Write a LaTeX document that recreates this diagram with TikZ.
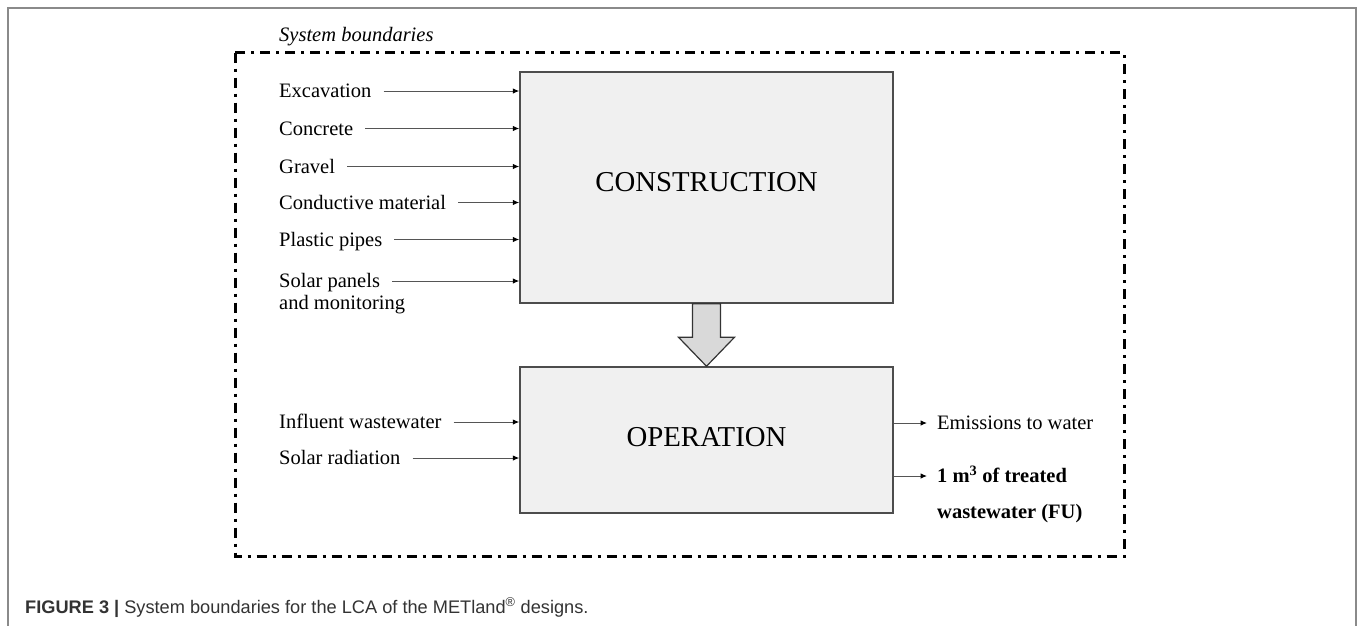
\documentclass[tikz,border=0pt]{standalone}
\usepackage{fontspec}
\setmainfont{Liberation Serif}
\newfontfamily\capfont{Liberation Sans}
\usetikzlibrary{arrows.meta,calc}
\definecolor{boxfill}{HTML}{F0F0F0}
\definecolor{boxline}{HTML}{4D4D4D}
\definecolor{flowline}{HTML}{555555}
\definecolor{framecol}{HTML}{8A8A8A}
\definecolor{bigarrow}{HTML}{D9D9D9}
\definecolor{captext}{HTML}{333333}
\tikzset{
  stagebox/.style={draw=boxline, line width=1.5pt, fill=boxfill, inner sep=0pt,
    font=\fontsize{28.8}{34}\selectfont},
  inlabel/.style={anchor=west, inner sep=0pt, text height=13.4pt, text depth=0pt,
    font=\fontsize{20.5}{24}\selectfont},
  outlabel/.style={inlabel},
  flow/.style={draw=flowline, line width=1pt, -{Latex[length=6.5pt,width=5.5pt,color=black]}},
  boundary/.style={draw=black, line width=3pt, dash pattern=on 10pt off 6pt on 3pt off 6pt},
  blockarrow/.style={draw=black!80, line width=1.2pt, fill=bigarrow, line join=miter},
}
\begin{document}
\begin{tikzpicture}[x=1pt, y=-1pt]
\useasboundingbox (0,0) rectangle (1358,625);
\fill[white] (0,0) rectangle (1358,625);
% outer frame
\draw[framecol, line width=1.5pt] (8,640) -- (8,8) -- (1356,8) -- (1356,640);
% system boundary
\draw[boundary] (235,52.5) rectangle (1124,556);
\node[anchor=base west, inner sep=0pt, font=\fontsize{20.5}{24}\selectfont\itshape] (sb) at (279,41) {System boundaries};
% stages
\node[stagebox, minimum width=373pt, minimum height=231pt, text depth=12pt] (con) at (706.5,187.5) {CONSTRUCTION};
\node[stagebox, minimum width=373pt, minimum height=146pt, text depth=6pt] (op) at (706.5,440) {OPERATION};
% block arrow
\draw[blockarrow] ($(con.south)+(-14,0)$) -- ($(con.south)+(14,0)$) -- ($(op.north)+(14,-29)$)
  -- ($(op.north)+(28,-29)$) -- (op.north) -- ($(op.north)+(-28,-29)$) -- ($(op.north)+(-14,-29)$) -- cycle;
% construction inputs
\node[inlabel] (exc) at (279,91) {Excavation};
\node[inlabel] (cnc) at (279,128.5) {Concrete};
\node[inlabel] (grv) at (279,166.5) {Gravel};
\node[inlabel] (cdm) at (279,202.5) {Conductive material};
\node[inlabel] (plp) at (279,239.5) {Plastic pipes};
\node[inlabel] (sp1) at (279,281) {Solar panels};
\node[inlabel] (sp2) at (279,303) {and monitoring};
\foreach \n in {exc,cnc,grv,cdm,plp,sp1}
  \draw[flow] ([xshift=12pt]\n.east) -- (\n.east -| con.west);
% operation inputs
\node[inlabel] (inf) at (279,422) {Influent wastewater};
\node[inlabel] (sol) at (279,458) {Solar radiation};
\foreach \n in {inf,sol}
  \draw[flow] ([xshift=12pt]\n.east) -- (\n.east -| op.west);
% outputs
\node[outlabel] (emi) at (937,423) {Emissions to water};
\node[outlabel, font=\fontsize{20.5}{24}\selectfont\bfseries] (fu1) at (937,476) {1 m\textsuperscript{3} of treated};
\node[outlabel, font=\fontsize{20.5}{24}\selectfont\bfseries] (fu2) at (937,511.5) {wastewater (FU)};
\draw[flow] (op.east |- emi.west) -- ([xshift=-10pt]emi.west);
\draw[flow] (op.east |- fu1.west) -- ([xshift=-10pt]fu1.west);
% caption
\node[anchor=base west, inner sep=0pt, text=captext, font=\capfont\fontsize{18.2}{22}\selectfont] (cap) at (25,613)
  {\textbf{FIGURE 3 |} System boundaries for the LCA of the METland\textsuperscript{®} designs.};
\end{tikzpicture}
\end{document}
